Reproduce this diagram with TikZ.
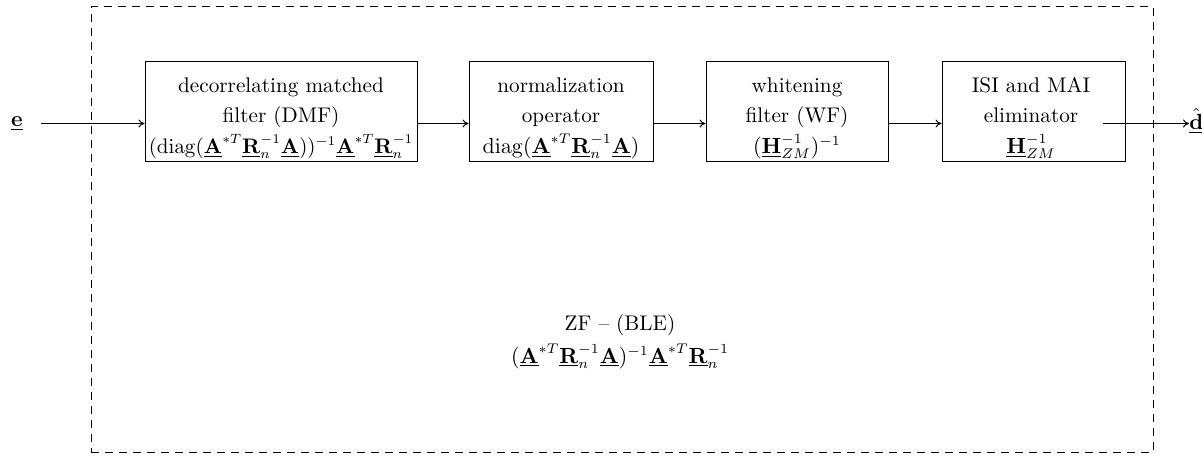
\documentclass[tikz,border=0pt]{standalone}
\usetikzlibrary{arrows.meta}
\usepackage{graphicx}
\newcommand{\uA}{\underline{\mathbf{A}}}
\newcommand{\uR}{\underline{\mathbf{R}}}
\newcommand{\uH}{\underline{\mathbf{H}}}
\begin{document}
\begin{tikzpicture}[x=0.5pt,y=-0.5pt,
  blk/.style={draw,line width=0.5pt,inner sep=0pt},
  lbl/.style={align=center,font=\fontsize{10.6}{13.8}\selectfont},
  conn/.style={line width=0.5pt,-{To[length=3pt,width=4pt]}},
  frame/.style={draw,dashed,line width=0.5pt,dash pattern=on 4pt off 3pt}]
\useasboundingbox (0,0) rectangle (1202,458);
\node[frame,minimum width=531pt,minimum height=222.5pt,inner sep=0pt] (fr) at (622,229.5) {};
% blocks
\node[blk,minimum width=136pt,minimum height=50pt] (b1) at (281,112) {};
\node[blk,minimum width=92pt,minimum height=50pt] (b2) at (561,112) {};
\node[blk,minimum width=91pt,minimum height=50pt] (b3) at (797,112) {};
\node[blk,minimum width=91.5pt,minimum height=50pt] (b4) at (1033.5,112) {};
% labels
\node[lbl] (t1) at (281,118) {decorrelating matched\\[1.5pt] filter (DMF)\\[1.5pt]
  \scalebox{0.96}{$(\mathrm{diag}(\uA^{*T}\uR_n^{-1}\uA))^{-1}\uA^{*T}\uR_n^{-1}$}};
\node[lbl] (t2) at (561,118) {normalization\\[1.5pt] operator\\[1.5pt]
  $\mathrm{diag}(\uA^{*T}\uR_n^{-1}\uA)$};
\node[lbl] (t3) at (797,118) {whitening\\[1.5pt] filter (WF)\\[1.5pt]
  $(\uH_{ZM}^{-1})^{-1}$};
\node[lbl] (t4) at (1031,118) {ISI and MAI\\[1.5pt] eliminator\\[1.5pt]
  $\uH_{ZM}^{-1}$};
\node[lbl] (zf) at (620,325) {ZF -- (BLE)};
\node[lbl] (zff) at (620,356) {$(\uA^{*T}\uR_n^{-1}\uA)^{-1}\uA^{*T}\uR_n^{-1}$};
% signals
\node[lbl,inner sep=0pt] (e) at (17,124) {$\underline{\mathbf{e}}$};
\coordinate (ein) at (41,123.5);
\node[lbl,inner sep=0pt,anchor=west] (d) at (1189,121) {$\underline{\hat{\mathbf{d}}}$};
\coordinate (dout) at (1103,123.5);
% connectors
\draw[conn] (ein) -- (ein -| b1.west);
\draw[conn] (b1.east |- ein) -- (b2.west |- ein);
\draw[conn] (b2.east |- ein) -- (b3.west |- ein);
\draw[conn] (b3.east |- ein) -- (b4.west |- ein);
\draw[conn] (dout) -- (d.west |- dout);
\end{tikzpicture}
\end{document}
